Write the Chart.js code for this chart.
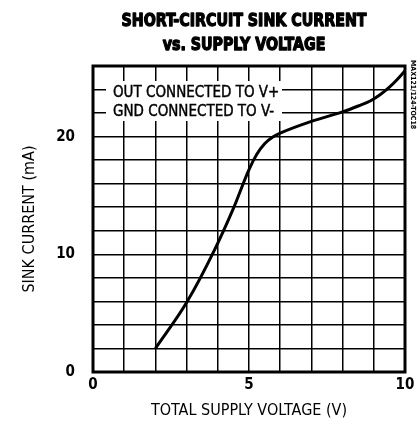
<!DOCTYPE html>
<html>
<head>
<meta charset="utf-8">
<script src="https://cdn.jsdelivr.net/npm/chart.js@4.4.7/dist/chart.umd.min.js"></script>
<style>
  html, body { margin: 0; padding: 0; background: #fff; }
  #wrap { width: 419px; height: 430px; position: relative; }
</style>
</head>
<body>
<div id="wrap"><canvas id="sinkChart"></canvas></div>
<script>
// ===== データ =====
const supplyVoltage = [2.0, 3.0, 3.9, 4.5, 5.0, 5.25, 5.5, 5.75, 6.0, 7.0, 8.0, 8.5, 8.9, 9.2, 9.5, 9.75, 10.0];
const sinkCurrent   = [2.0, 5.9, 10.4, 13.9, 17.2, 18.5, 19.4, 19.95, 20.3, 21.3, 22.1, 22.6, 23.05, 23.55, 24.2, 24.85, 25.6];
const xTickLabels = [0, 5, 10];
const yTickLabels = [0, 10, 20];
const titleLines = ['SHORT-CIRCUIT SINK CURRENT', 'vs. SUPPLY VOLTAGE'];
const noteLines = ['OUT CONNECTED TO V+', 'GND CONNECTED TO V-'];

const FONT = '"Liberation Sans Narrow", "DejaVu Sans Condensed", sans-serif';

// ===== 枠線・注記・タイトル =====
const decorPlugin = {
  id: 'decor',
  afterDatasetsDraw(chart) {
    const { ctx, chartArea: a } = chart;
    ctx.save();
    // 注記ボックス
    ctx.fillStyle = '#fff';
    ctx.fillRect(a.left + 13, a.top + 15, 176, 40);
    ctx.fillStyle = '#000';
    ctx.strokeStyle = '#000';
    ctx.lineWidth = 0.4;
    ctx.font = '15px ' + FONT;
    ctx.textBaseline = 'middle';
    noteLines.forEach((t, i) => {
      ctx.fillText(t, a.left + 20, a.top + 27 + i * 19);
      ctx.strokeText(t, a.left + 20, a.top + 27 + i * 19);
    });
    // 外枠
    ctx.lineWidth = 3;
    ctx.strokeRect(a.left, a.top, a.right - a.left, a.bottom - a.top);
    // 図番号（縦書き）
    ctx.font = 'bold 7px ' + FONT;
    ctx.translate(a.right + 8, a.top - 6);
    ctx.rotate(Math.PI / 2);
    ctx.fillText('MAX121/124-TOC18', 0, 0);
    ctx.restore();

    // タイトル
    ctx.save();
    ctx.fillStyle = '#000';
    ctx.strokeStyle = '#000';
    ctx.lineWidth = 1.2;
    ctx.lineJoin = 'round';
    ctx.font = 'bold 17px ' + FONT;
    ctx.textAlign = 'center';
    ctx.textBaseline = 'middle';
    titleLines.forEach((t, i) => {
      ctx.save();
      ctx.translate(244, 21 + i * 24);
      ctx.scale(0.93, 1.05);
      ctx.fillText(t, 0, 0);
      ctx.strokeText(t, 0, 0);
      ctx.restore();
    });
    ctx.restore();
  }
};

function createChart() {
  const ctx = document.getElementById('sinkChart').getContext('2d');
  new Chart(ctx, {
    type: 'scatter',
    data: {
      datasets: [
        {
          data: supplyVoltage.map((v, i) => ({ x: v, y: sinkCurrent[i] })),
          showLine: true,
          borderColor: '#000',
          borderWidth: 3,
          pointRadius: 0,
          cubicInterpolationMode: 'monotone'
        }
      ]
    },
    options: {
      responsive: true,
      maintainAspectRatio: false,
      animation: false,
      layout: { padding: { top: 66, right: 14, left: 0, bottom: 0 } },
      plugins: {
        legend: { display: false },
        tooltip: { enabled: false },
        title: { display: false }
      },
      scales: {
        x: {
          type: 'linear',
          min: 0,
          max: 10,
          afterFit: s => { s.height = 58; },
          ticks: {
            stepSize: 1,
            autoSkip: false,
            maxRotation: 0,
            color: '#000',
            padding: 4,
            font: { family: FONT, size: 15, weight: 'bold' },
            callback: v => xTickLabels.includes(v) ? String(v) : ''
          },
          grid: { color: '#000', lineWidth: 1.5, drawTicks: false },
          border: { display: false },
          title: {
            display: true,
            text: 'TOTAL SUPPLY VOLTAGE (V)',
            color: '#000',
            font: { family: FONT, size: 16 },
            padding: { top: 0, bottom: 10 }
          }
        },
        y: {
          min: 0,
          max: 26,
          afterFit: s => { s.width = 93; },
          ticks: {
            stepSize: 2,
            autoSkip: false,
            color: '#000',
            padding: 18,
            font: { family: FONT, size: 15, weight: 'bold' },
            callback: v => yTickLabels.includes(v) ? String(v) : ''
          },
          grid: { color: '#000', lineWidth: 1.5, drawTicks: false },
          border: { display: false },
          title: {
            display: true,
            text: 'SINK CURRENT (mA)',
            color: '#000',
            font: { family: FONT, size: 16 },
            padding: { top: 20, bottom: 0 }
          }
        }
      }
    },
    plugins: [decorPlugin]
  });
}

document.addEventListener('DOMContentLoaded', createChart);
</script>
</body>
</html>
